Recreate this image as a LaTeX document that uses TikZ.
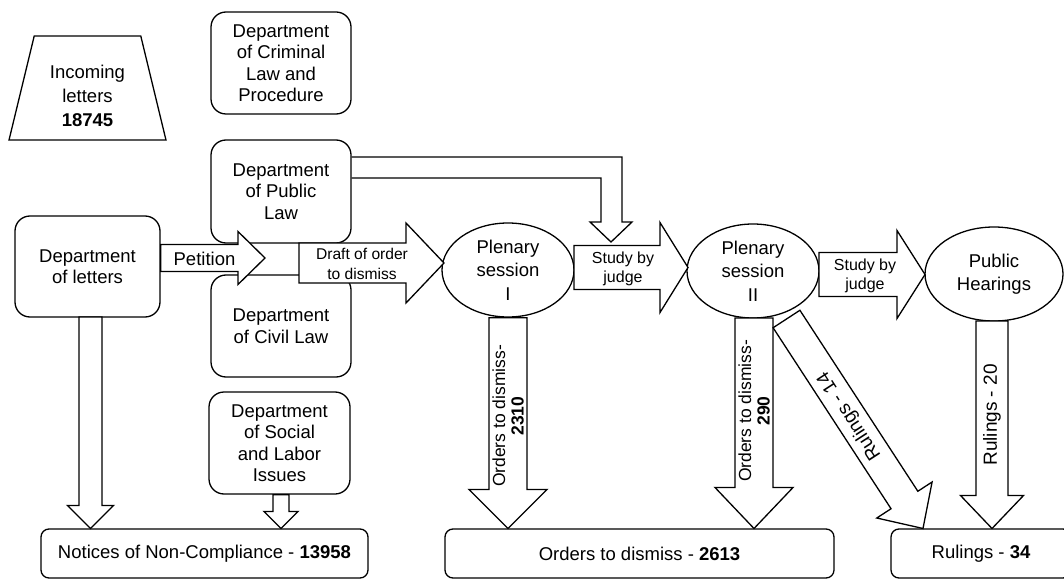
\documentclass[tikz,border=0pt]{standalone}
\usepackage{fontspec}
\setmainfont{Liberation Sans}
\usetikzlibrary{shapes.geometric,calc}
\tikzset{
  dept/.style={draw, line width=1.3pt, rounded corners=15pt, align=center,
    minimum width=140pt, minimum height=102pt, inner sep=0pt,
    font=\fontsize{18.5}{21.5}\selectfont},
  session/.style={draw, ellipse, line width=1.3pt, align=center, inner sep=0pt,
    minimum width=132pt, minimum height=94pt, font=\fontsize{18.5}{23.5}\selectfont},
  sumbox/.style={draw, line width=1.3pt, rounded corners=8pt, minimum height=49pt,
    inner sep=0pt, font=\fontsize{18.5}{21.5}\selectfont},
  fatarrow/.style={draw, fill=white, line width=1.3pt, line join=miter},
  flowtext/.style={align=center, inner sep=0pt, font=\fontsize{16}{19.5}\selectfont},
  sidetext/.style={align=center, inner sep=0pt, font=\fontsize{17.5}{18.5}\selectfont}
}
% block arrow: from, tip, shaft half width, head half width, head length
\newcommand{\blockarrow}[5]{%
  \path[fatarrow] let \p1=($(#2)-(#1)$), \n1={atan2(\y1,\x1)}, \n2={veclen(\x1,\y1)} in
    [shift={(#1)}, rotate=\n1]
    (0,-#3) -- ({\n2-#5},-#3) -- ({\n2-#5},-#4) -- (\n2,0) -- ({\n2-#5},#4)
    -- ({\n2-#5},#3) -- (0,#3) -- cycle;
}

\begin{document}
\begin{tikzpicture}[x=1pt, y=1pt]
  \useasboundingbox (0,0) rectangle (1064,579);

  % departments
  \node[trapezium, draw, line width=1.3pt, trapezium stretches=true,
    trapezium left angle=76.7, trapezium right angle=76.7,
    minimum width=157pt, minimum height=104pt] (incoming) at (87.5,491) {};
  \node[align=center, font=\fontsize{18.5}{24}\selectfont] (incomingtext) at (87.5,483.5)
    {Incoming\\letters\\\textbf{18745}};
  \node[dept] (crim) at (281,516) {Department\\of Criminal\\Law and\\Procedure};
  \node[dept, minimum height=103pt] (pub) at (281,387.5) {Department\\of Public\\Law};
  \node[dept] (civ) at (281,253) {Department\\of Civil Law};
  \node[dept, minimum width=141pt] (soc) at (279.5,136) {Department\\of Social\\and Labor\\Issues};
  \node[dept, minimum width=145pt, minimum height=101pt] (let) at (87.5,312.5) {Department\\of letters};

  % sessions
  \node[session] (pl1) at (508,309) {Plenary\\session\\I};
  \node[session] (pl2) at (753,308) {Plenary\\session\\II};
  \node[session, minimum width=138pt] (ph) at (994,305) {Public\\Hearings};

  % totals
  \node[sumbox, minimum width=327pt] (notices) at (204.5,25.5) {Notices of Non-Compliance - \textbf{13958}};
  \node[sumbox, minimum width=389pt] (ordbox) at (639.5,25.5) {Orders to dismiss - \textbf{2613}};
  \node[sumbox, minimum width=180pt] (rulbox) at (981,25.5) {Rulings - \textbf{34}};

  % arrow ends
  \coordinate (pettip) at (265,321);
  \coordinate (draftin) at (299,316);
  \coordinate (drafttip) at (444,316);
  \coordinate (bendtip) at (611,337);
  \coordinate (diagin) at (786.5,260);
  \coordinate (diagtip) at (923,50.5);

  % horizontal flow
  \blockarrow{$(let.east)+(0,8.5)$}{pettip}{13.5}{26.5}{27}
  \blockarrow{draftin}{drafttip}{20}{40}{38}
  \blockarrow{574,311.5}{688,311.5}{22}{45}{28}
  \blockarrow{819,304.5}{925,304.5}{22}{44}{28}
  \draw[fatarrow, fill=none] ($(pub.east)+(0,34.5)$) -| (622,357) -- (632,357) -- (bendtip)
    -- (590,357) -- (601,357) |- ($(pub.east)+(0,13.5)$);

  % downward flow
  \blockarrow{90.5,262}{90.5,50.5}{11.5}{23}{23}
  \blockarrow{$(soc.south)+(1.5,0)$}{281,50.5}{8}{17}{17}
  \blockarrow{pl1.south}{508,50.5}{19}{39}{39}
  \blockarrow{754,261}{754,50.5}{19}{39}{41}
  \blockarrow{diagin}{diagtip}{16}{33}{34}
  \blockarrow{992,258}{992,50.5}{16}{31.5}{33}

  % arrow labels
  \node[font=\fontsize{18.5}{21.5}\selectfont, inner sep=0pt] (petlbl) at (204.5,320) {Petition};
  \node[flowtext, font=\fontsize{15.6}{20.5}\selectfont] (draftlbl) at (362,315) {Draft of order\\to dismiss};
  \node[flowtext] (study1lbl) at (623,310) {Study by\\judge};
  \node[flowtext] (study2lbl) at (865,303) {Study by\\judge};
  \node[sidetext, rotate=90] (ord1lbl) at (508,163) {Orders to dismiss-\\\textbf{2310}};
  \node[sidetext, rotate=90] (ord2lbl) at (754,168) {Orders to dismiss-\\\textbf{290}};
  \node[sidetext, font=\fontsize{19}{21}\selectfont, rotate=123] (rul14lbl) at (849.5,163) {Rulings - 14};
  \node[sidetext, font=\fontsize{19}{21}\selectfont, rotate=90] (rul20lbl) at (992,164) {Rulings - 20};
\end{tikzpicture}
\end{document}
